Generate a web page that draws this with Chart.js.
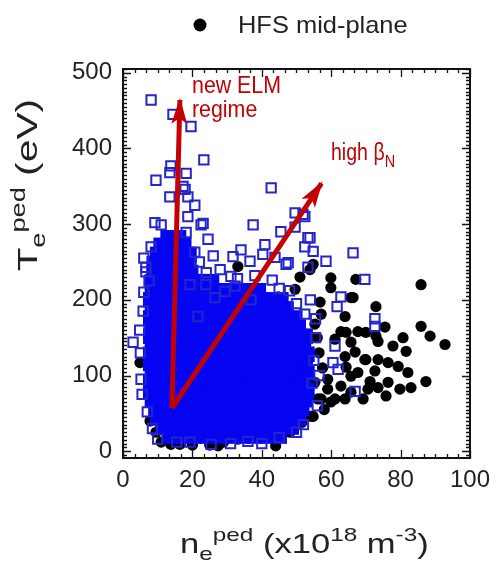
<!DOCTYPE html>
<html>
<head>
<meta charset="utf-8">
<script src="https://cdn.jsdelivr.net/npm/chart.js@4.4.1/dist/chart.umd.min.js"></script>
<style>
  html, body { margin: 0; padding: 0; background: #fff; }
  canvas { display: block; }
</style>
</head>
<body>
<canvas id="c" width="498" height="563" style="width:498px;height:563px"></canvas>
<script>
// ---- values ----
const xTicks = [0, 20, 40, 60, 80, 100];
const yTicks = [0, 100, 200, 300, 400, 500];

// HFS mid-plane (black dots): [n_e, T_e]
const hfsPoints = [
  [85.9,220],[85.9,165],[88.5,152],[92.8,141],[87.3,92],[83.0,84],[81.6,132],[80.7,150],
  [77.8,139],[72.9,191],[75.5,164],[72.9,152],[70.0,157],[67.7,158],[73.5,145],[70.0,121],
  [73.5,121],[76.4,117],[79.3,112],[82.1,104],[72.6,106],[71.2,92],[76.4,91],[79.8,82],
  [75.8,73],[73.5,84],[69.2,69],[65.7,78],[62.8,86],[59.9,65],[64.0,69],[57.1,69],
  [54.8,46],[48.4,29],[65.7,99],[64.3,111],[66.9,131],[65.7,144],[64.0,178],[64.3,157],
  [65.7,203],[59.9,229],[59.9,216],[67.1,227],[56.8,197],[57.1,181],[55.3,168],[54.8,247],
  [51.0,230],[62.8,158],[67.7,104],[59.0,82],[55.3,91],[70.6,82],[61.1,148],[64.0,125],
  [59.0,95],[61.1,69],[56.2,69],[54.2,46],[48.1,25],[43.8,16],[33.1,16],[38.9,22],
  [7.8,40],[11.0,12],[13.8,9],[16.4,9],[20.0,8],[27.4,7],[44.0,7],[4.9,117],
  [33.1,244],[44.7,204],[49.6,214],[53.9,240],[66.3,203],[69.7,121],[25.0,8],[29.0,12],[9.5,25],
  [56.5,130],[57.5,110],[56.0,150],[58.0,55],[51.5,38]
];

// other data (blue open squares) around the dense cloud
const squarePoints = [
  [8.1,464],[14.4,445],[19.6,429],[23.3,385],[13.8,377],[13.5,368],[9.5,358],[18.2,367],
  [17.3,350],[13.5,336],[18.7,336],[20.7,325],[18.7,310],[23.1,301],[11,299],[18.2,289],
  [24.5,280],[8.1,270],[20.7,263],[42.7,348],[37.5,299],[45.5,290],[49.6,315],[52.4,310],
  [49.6,296],[53.9,282],[34,266],[31.7,257],[40.9,273],[40.3,260],[54.8,264],[52.4,270],
  [36.6,251],[43.8,256],[47.6,249],[58.5,251],[66.3,262],[62.8,204],[53.3,243],[31.1,231],
  [69.7,227],[61.7,191],[72.6,175],[72.6,165],[52.4,181],[61.1,139],[60.5,117],[62,108],
  [66.9,79],[2.9,144],[6.6,237],[5.8,185],[5.2,95],[19.3,220],[23.9,220],[21.6,178],
  [26.5,203],[29.4,211],[32.3,218],[36.9,200],[47,247],[19.3,12],[25.4,9],[22.5,299],
  [9.2,302],[6.6,243],[17.9,346],[51.9,313],[53.3,282],
  [5.5,75],[5,130],[4.8,160],[6,210],[6,255],[10,16],[15.5,12],[31,10],[36,13],
  [55,120],[55.5,150],[54.5,90],[54,200],[48,212],[43,226],[38,232],[28,240],[26,258],[56,60],[52,35],
  [7,52],[8.5,30],[40,10],[45,18],[50,25],[56.5,100],[55.5,175],[50,195],[45,215],[33,228],
  [24,236],[22,250],[7.5,225]
];

// the saturated blue cloud, row by row: [T_e, n_e values]
const cloudRows = [
  [20,  [13.5, 17, 20.5, 24, 27.5, 31, 34.5, 38, 41.5, 45]],
  [32,  [11.5, 15, 18.5, 22, 25.5, 29, 32.5, 36, 39.5, 43, 46.5, 48.5]],
  [44,  [10, 13.5, 17, 20.5, 24, 27.5, 31, 34.5, 38, 41.5, 45, 48.5, 50.5]],
  [56,  [9.5, 13, 16.5, 20, 23.5, 27, 30.5, 34, 37.5, 41, 44.5, 48, 51.5]],
  [68,  [8.5, 12, 15.5, 19, 22.5, 26, 29.5, 33, 36.5, 40, 43.5, 47, 50.5, 52.5]],
  [80,  [8, 11.5, 15, 18.5, 22, 25.5, 29, 32.5, 36, 39.5, 43, 46.5, 50, 53]],
  [92,  [8, 11.5, 15, 18.5, 22, 25.5, 29, 32.5, 36, 39.5, 43, 46.5, 50, 52]],
  [104, [8.5, 12, 15.5, 19, 22.5, 26, 29.5, 33, 36.5, 40, 43.5, 47, 50.5, 53]],
  [116, [8, 11.5, 15, 18.5, 22, 25.5, 29, 32.5, 36, 39.5, 43, 46.5, 50, 52.5]],
  [128, [8, 11.5, 15, 18.5, 22, 25.5, 29, 32.5, 36, 39.5, 43, 46.5, 50, 53]],
  [140, [8.5, 12, 15.5, 19, 22.5, 26, 29.5, 33, 36.5, 40, 43.5, 47, 50.5, 52]],
  [152, [8, 11.5, 15, 18.5, 22, 25.5, 29, 32.5, 36, 39.5, 43, 46.5, 50, 52.5]],
  [164, [8.5, 12, 15.5, 19, 22.5, 26, 29.5, 33, 36.5, 40, 43.5, 47, 50.5]],
  [176, [8, 11.5, 15, 18.5, 22, 25.5, 29, 32.5, 36, 39.5, 43, 46.5, 49.5]],
  [188, [8.5, 12, 15.5, 19, 22.5, 26, 29.5, 33, 36.5, 40, 43.5, 47]],
  [200, [8, 11.5, 15, 18.5, 22, 25.5, 29, 32.5, 36, 39.5, 43, 45.5]],
  [212, [8.5, 12, 15.5, 19, 22.5, 26, 29, 32, 35.5, 39]],
  [224, [8.5, 12, 15.5, 19, 22, 25.5]],
  [236, [9, 12.5, 16, 19.5]],
  [248, [9, 12.5, 16, 19]],
  [260, [10, 13.5, 17, 19]],
  [272, [11, 14.5, 17.5]],
  [282, [13, 16]]
];

// red arrows, common start, two tips
const arrowFrom = [14.1, 57];
const arrowTips = [[16.4, 464], [57.2, 354]];

// ---- build datasets ----
const toXY = p => ({ x: p[0], y: p[1] });
const cloud = [];
cloudRows.forEach(r => r[1].forEach(x => cloud.push({ x: x, y: r[0] })));

const RED = '#c40000';
const FONT = '"Liberation Sans", Arial, sans-serif';

function rich(ctx, parts, sx) {
  ctx.save();
  ctx.scale(sx, 1);
  let cx = 0;
  parts.forEach(p => {
    ctx.font = p.size + 'px ' + FONT;
    ctx.fillText(p.t, cx, p.dy || 0);
    cx += ctx.measureText(p.t).width;
  });
  ctx.restore();
}

const framePlugin = {
  id: 'frame',
  afterDatasetsDraw(chart) {
    const { ctx, chartArea: a, scales: { x, y } } = chart;
    ctx.save();
    ctx.strokeStyle = '#111';
    ctx.lineWidth = 1.3;
    ctx.beginPath();
    for (let i = 0; i <= 30; i++) {
      const v = i * 20 / 6;
      const px = Math.round(x.getPixelForValue(v)) + 0.5;
      const len = i % 6 === 0 ? 8 : 4;
      ctx.moveTo(px, a.bottom); ctx.lineTo(px, a.bottom - len);
      ctx.moveTo(px, a.top); ctx.lineTo(px, a.top + len);
    }
    for (let v = -5; v <= 505; v += 5) {
      const py = Math.round(y.getPixelForValue(v)) + 0.5;
      const len = v % 100 === 0 ? 8 : 4;
      ctx.moveTo(a.left, py); ctx.lineTo(a.left + len, py);
      ctx.moveTo(a.right, py); ctx.lineTo(a.right - len, py);
    }
    ctx.stroke();
    ctx.lineWidth = 2;
    ctx.strokeRect(a.left, a.top, a.right - a.left, a.bottom - a.top);

    // arrow heads at the tips
    const ox = x.getPixelForValue(arrowFrom[0]), oy = y.getPixelForValue(arrowFrom[1]);
    ctx.fillStyle = RED;
    arrowTips.forEach(t => {
      const tx = x.getPixelForValue(t[0]), ty = y.getPixelForValue(t[1]);
      const ang = Math.atan2(ty - oy, tx - ox);
      ctx.save();
      ctx.translate(tx, ty);
      ctx.rotate(ang);
      ctx.beginPath();
      ctx.moveTo(2, 0);
      ctx.lineTo(-24, -8);
      ctx.lineTo(-18, 0);
      ctx.lineTo(-24, 8);
      ctx.closePath();
      ctx.fill();
      ctx.restore();
    });
    ctx.restore();
  },
  afterDraw(chart) {
    const ctx = chart.ctx;
    ctx.save();
    ctx.textBaseline = 'alphabetic';
    ctx.textAlign = 'left';

    // legend
    ctx.fillStyle = '#000';
    ctx.beginPath();
    ctx.arc(200, 25, 6.5, 0, Math.PI * 2);
    ctx.fill();
    ctx.fillStyle = '#222';
    ctx.save(); ctx.translate(238, 33);
    rich(ctx, [{ t: 'HFS mid-plane', size: 24 }], 1.06);
    ctx.restore();

    // axis titles
    ctx.fillStyle = '#222';
    ctx.save(); ctx.translate(180, 553);
    rich(ctx, [
      { t: 'n', size: 27 }, { t: 'e', size: 19, dy: 7 }, { t: 'ped', size: 19, dy: -12 },
      { t: ' (x10', size: 27 }, { t: '18', size: 19, dy: -12 },
      { t: ' m', size: 27 }, { t: '-3', size: 19, dy: -12 }, { t: ')', size: 27 }
    ], 1.28);
    ctx.restore();

    ctx.save(); ctx.translate(37, 271); ctx.rotate(-Math.PI / 2);
    rich(ctx, [
      { t: 'T', size: 28 }, { t: 'e', size: 20, dy: 8 }, { t: 'ped', size: 20, dy: -12 },
      { t: ' (eV)', size: 30 }
    ], 1.36);
    ctx.restore();

    // red annotations
    ctx.fillStyle = RED;
    ctx.save(); ctx.translate(192, 93);
    rich(ctx, [{ t: 'new ELM', size: 24 }], 0.89);
    ctx.restore();
    ctx.save(); ctx.translate(192, 117);
    rich(ctx, [{ t: 'regime', size: 24 }], 0.89);
    ctx.restore();
    ctx.save(); ctx.translate(331, 160);
    rich(ctx, [{ t: 'high ', size: 23 }, { t: 'β', size: 23 }, { t: 'N', size: 17, dy: 7 }], 0.85);
    ctx.restore();
    ctx.restore();
  }
};

const tickFont = { family: FONT, size: 24 };

new Chart(document.getElementById('c'), {
  type: 'scatter',
  data: {
    datasets: [
      {
        label: 'arrow 1',
        type: 'line',
        data: [toXY(arrowFrom), toXY(arrowTips[0])],
        borderColor: RED, borderWidth: 5, pointRadius: 0, fill: false,
        borderCapStyle: 'butt', order: 0
      },
      {
        label: 'arrow 2',
        type: 'line',
        data: [toXY(arrowFrom), toXY(arrowTips[1])],
        borderColor: RED, borderWidth: 5, pointRadius: 0, fill: false,
        borderCapStyle: 'butt', order: 0
      },
      {
        label: 'cloud',
        data: cloud,
        pointStyle: 'rect',
        pointRadius: 11,
        backgroundColor: '#0505f2',
        borderWidth: 0,
        order: 2
      },
      {
        label: 'other',
        data: squarePoints.map(toXY),
        pointStyle: 'rect',
        pointRadius: 6.6,
        backgroundColor: 'rgba(0,0,0,0)',
        borderColor: '#2525cc',
        borderWidth: 2,
        order: 1
      },
      {
        label: 'HFS mid-plane',
        data: hfsPoints.map(toXY),
        pointStyle: 'circle',
        pointRadius: 5.6,
        backgroundColor: '#000',
        borderWidth: 0,
        order: 3
      }
    ]
  },
  options: {
    responsive: false,
    animation: false,
    events: [],
    layout: { padding: { top: 69, right: 27, left: 0, bottom: 0 } },
    plugins: { legend: { display: false }, tooltip: { enabled: false } },
    scales: {
      x: {
        type: 'linear', min: 0, max: 100,
        afterFit: s => { s.height = 105; },
        afterBuildTicks: s => { s.ticks = xTicks.map(v => ({ value: v })); },
        ticks: { padding: 8, color: '#222', font: tickFont, maxRotation: 0 },
        grid: { display: false, drawTicks: false },
        border: { display: false }
      },
      y: {
        type: 'linear', min: -9, max: 505,
        afterFit: s => { s.width = 123; },
        afterBuildTicks: s => { s.ticks = yTicks.map(v => ({ value: v })); },
        ticks: { padding: 11, color: '#222', font: tickFont },
        grid: { display: false, drawTicks: false },
        border: { display: false }
      }
    }
  },
  plugins: [framePlugin]
});
</script>
</body>
</html>
